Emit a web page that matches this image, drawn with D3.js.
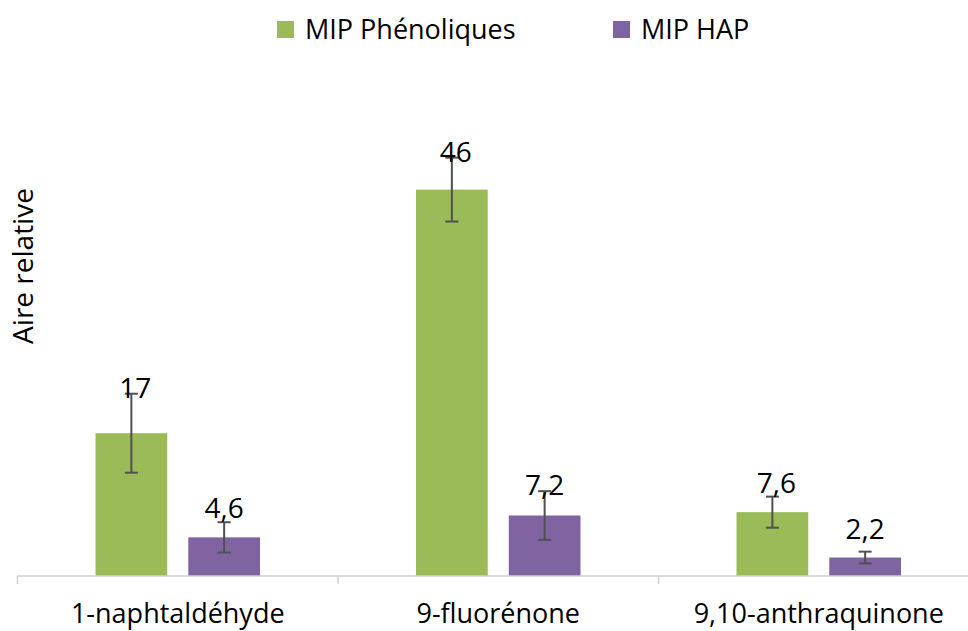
<!DOCTYPE html>
<html>
<head>
<meta charset="utf-8">
<script src="https://cdn.jsdelivr.net/npm/d3@7"></script>
<style>
  body { margin: 0; background: #fff; }
  text { font-family: "Open Sans", sans-serif; fill: #000; }
</style>
</head>
<body>
<div id="chart"></div>
<script>
(function () {
    const width = 968;
    const height = 631;

    // data
    const categories = ["1-naphtaldéhyde", "9-fluorénone", "9,10-anthraquinone"];
    const series = ["MIP Phénoliques", "MIP HAP"];
    const colors = ["#9BBB59", "#8064A2"];
    const phenoliques = [17, 46, 7.6];
    const phenoliquesErr = [4.7, 3.8, 1.85];
    const hap = [4.6, 7.2, 2.2];
    const hapErr = [1.8, 2.9, 0.7];
    const labelsPhen = ["17", "46", "7,6"];
    const labelsHap = ["4,6", "7,2", "2,2"];

    const rows = [];
    categories.forEach((c, i) => {
        rows.push({ cat: c, s: series[0], v: phenoliques[i], e: phenoliquesErr[i], lab: labelsPhen[i], col: colors[0] });
        rows.push({ cat: c, s: series[1], v: hap[i], e: hapErr[i], lab: labelsHap[i], col: colors[1] });
    });

    const svg = d3.select("#chart")
      .append("svg")
        .attr("width", width)
        .attr("height", height);

    // scales
    const x = d3.scaleBand()
      .domain(categories)
      .range([17.5, 979]);

    const x1 = d3.scaleBand()
      .domain(series)
      .range([78, 242.5])
      .paddingInner(0.227);

    const y = d3.scaleLinear()
      .domain([0, 50])
      .range([576, 156]);

    // bars
    svg.append("g")
      .selectAll("rect")
      .data(rows)
      .enter()
      .append("rect")
        .attr("x", d => x(d.cat) + x1(d.s))
        .attr("y", d => y(d.v))
        .attr("width", x1.bandwidth())
        .attr("height", d => y(0) - y(d.v))
        .style("fill", d => d.col);

    // baseline + category separators
    const axis = svg.append("g").attr("transform", `translate(0,${y(0)})`);
    axis.append("line")
      .attr("x1", x.range()[0])
      .attr("x2", x.range()[1])
      .attr("stroke", "#d0d0d0")
      .attr("stroke-width", 1.5);
    axis.selectAll(".sep")
      .data(categories)
      .enter()
      .append("line")
        .attr("class", "sep")
        .attr("x1", d => x(d))
        .attr("x2", d => x(d))
        .attr("y1", 0)
        .attr("y2", 8)
        .attr("stroke", "#d0d0d0")
        .attr("stroke-width", 1.5);
    axis.selectAll(".lab")
      .data(categories)
      .enter()
      .append("text")
        .attr("class", "lab")
        .attr("x", d => x(d) + x.bandwidth() / 2)
        .attr("y", 47)
        .attr("text-anchor", "middle")
        .style("font-size", "27px")
        .text(d => d);

    // error bars
    const eb = svg.append("g")
      .attr("stroke", "#505050")
      .attr("stroke-width", 2);
    rows.forEach(d => {
        const cx = x(d.cat) + x1(d.s) + x1.bandwidth() / 2;
        eb.append("line")
          .attr("x1", cx).attr("x2", cx)
          .attr("y1", y(d.v + d.e)).attr("y2", y(d.v - d.e));
        [d.v + d.e, d.v - d.e].forEach(t => {
            eb.append("line")
              .attr("x1", cx - 6.5).attr("x2", cx + 6.5)
              .attr("y1", y(t)).attr("y2", y(t));
        });
    });

    // value labels
    svg.append("g")
      .selectAll("text")
      .data(rows)
      .enter()
      .append("text")
        .attr("x", d => x(d.cat) + x1(d.s) + x1.bandwidth() / 2 + (d.s === series[0] ? 4 : 0))
        .attr("y", d => Math.min(y(d.v) - 19, y(d.v + d.e) + 4))
        .attr("text-anchor", "middle")
        .style("font-size", "28px")
        .text(d => d.lab);

    // y label
    svg.append("text")
      .attr("transform", "rotate(-90)")
      .attr("x", -266)
      .attr("y", 33)
      .attr("text-anchor", "middle")
      .style("font-size", "28px")
      .text("Aire relative");

    // legend
    const legendX = [277, 613];
    const legend = svg.append("g");
    series.forEach((s, i) => {
        legend.append("rect")
          .attr("x", legendX[i])
          .attr("y", 21)
          .attr("width", 17)
          .attr("height", 17)
          .style("fill", colors[i]);
        legend.append("text")
          .attr("x", legendX[i] + 28)
          .attr("y", 39)
          .style("font-size", "27px")
          .text(s);
    });
})();
</script>
</body>
</html>
